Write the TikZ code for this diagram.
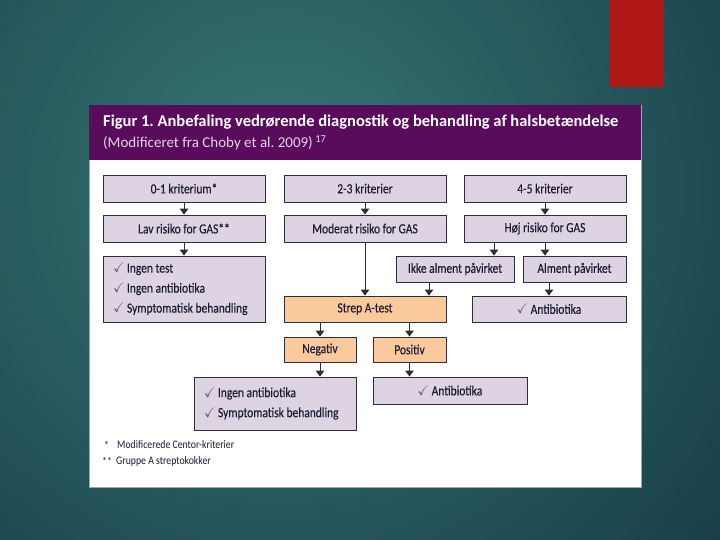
\documentclass[tikz,border=0pt]{standalone}
\usepackage{fontspec}
\usepackage{amssymb}
\setmainfont{Carlito}
\newfontfamily\cond[FakeStretch=0.82,FakeBold=0.2]{Carlito}
\newfontfamily\condlight[FakeStretch=0.85]{Carlito}
\usetikzlibrary{arrows.meta,calc}
\definecolor{bgin}{HTML}{377774}
\definecolor{bgout}{HTML}{163844}
\definecolor{redbar}{HTML}{B01818}
\definecolor{hdr}{HTML}{5A0C5C}
\definecolor{subt}{HTML}{E2D4E6}
\definecolor{lav}{HTML}{DDD3E3}
\definecolor{ora}{HTML}{FAC99C}
\definecolor{ink}{HTML}{1A1A30}
\definecolor{edge}{HTML}{2E2E3A}
\newcommand{\ck}{{\normalfont\color{ink!70}$\checkmark$}\,}
\newcommand{\natsp}{\spaceskip=0pt\xspaceskip=0pt\relax}
\frenchspacing
\tikzset{
  box/.style={draw=edge, line width=0.8pt, fill=lav, text=ink, inner sep=0pt,
    font=\cond\fontsize{14}{15}\selectfont\frenchspacing, align=center},
  obox/.style={box, fill=ora},
  listbox/.style={box, align=left, inner xsep=10pt, inner ysep=0pt,
    font=\cond\fontsize{14}{20}\selectfont},
  fnote/.style={anchor=west, text=ink, font=\condlight\fontsize{11.5}{13}\selectfont, inner sep=0pt},
  arr/.style={draw=edge, line width=0.9pt, -{Triangle[width=8.5pt,length=6pt]}}
}
\begin{document}
\begin{tikzpicture}[x=1pt,y=-1pt]
\useasboundingbox (0,0) rectangle (720,540);
\begin{scope}
\clip (0,0) rectangle (720,540);
\fill[bgout] (0,0) rectangle (720,540);
\shade[inner color=bgin, outer color=bgout] (280,190) circle (620);
\end{scope}
\fill[redbar] (609,0) rectangle (664,87);
% panel
\fill[white, draw=gray!70] (89,105) rectangle (641,487);
\fill[hdr] (89,105) rectangle (641,160);
\node[anchor=west, text=white, font=\fontsize{16.5}{18}\selectfont\bfseries\frenchspacing, inner sep=0pt] (title) at (103,122) {Figur 1. Anbefaling vedrørende diagnostik og behandling af halsbetændelse};
\node[anchor=west, text=subt, font=\fontsize{15}{16}\selectfont\frenchspacing, inner sep=0pt] (subtitle) at (103,143) {(Modificeret fra Choby et al. 2009)\,\textsuperscript{17}};
% row 1
\node[box, minimum width=162pt, minimum height=27pt] (A1) at (184,188.5) {0-1 kriterium*};
\node[box, minimum width=162pt, minimum height=27pt] (B1) at (365,188.5) {2-3 kriterier};
\node[box, minimum width=162pt, minimum height=27pt] (C1) at (545,188.5) {4-5 kriterier};
% row 2
\node[box, minimum width=162pt, minimum height=27pt] (A2) at (184,228.5) {Lav risiko for GAS**};
\node[box, minimum width=162pt, minimum height=27pt] (B2) at (365,228.5) {Moderat risiko for GAS};
\node[box, minimum width=162pt, minimum height=27pt] (C2) at (545,228.5) {Høj risiko for GAS};
% row 3
\node[listbox, text width=142pt, minimum height=66pt] (L3) at (184,289) {\natsp\ck Ingen test\\ \ck Ingen antibiotika\\ \ck Symptomatisk behandling};
\node[box, minimum width=118pt, minimum height=26pt] (Ikke) at (455,269) {Ikke alment påvirket};
\node[box, minimum width=103pt, minimum height=26pt] (Alm) at (574.5,269) {Alment påvirket};
% row 4
\node[obox, minimum width=162pt, minimum height=26pt] (Strep) at (365,309) {Strep A-test};
\node[box, minimum width=154pt, minimum height=26pt] (Ab1) at (549,309) {\ck Antibiotika};
% row 5
\node[obox, minimum width=72pt, minimum height=25pt] (Neg) at (320,349.5) {Negativ};
\node[obox, minimum width=73pt, minimum height=25pt] (Pos) at (409.5,349.5) {Positiv};
% row 6
\node[listbox, text width=142pt, minimum height=53pt] (L6) at (275,403.5) {\natsp\ck Ingen antibiotika\\ \ck Symptomatisk behandling};
\node[box, minimum width=154pt, minimum height=27pt] (Ab2) at (450,390.5) {\ck Antibiotika};
% footnotes
\node[fnote] (fn1s) at (104,445) {*};
\node[fnote] (fn1) at (117,445) {Modificerede Centor-kriterier};
\node[fnote] (fn2s) at (102,461) {**};
\node[fnote] (fn2) at (116,461) {Gruppe A streptokokker};
% arrows
\draw[arr] (A1.south) -- (A2.north);
\draw[arr] (A2.south) -- (L3.north);
\draw[arr] (B1.south) -- (B2.north);
\draw[arr] (B2.south) -- (Strep.north);
\draw[arr] (C1.south) -- (C2.north);
\draw[arr] ([xshift=-51pt]C2.south) -- ([xshift=-51pt]C2.south |- Ikke.north);
\draw[arr] (C2.south) -- (C2.south |- Alm.north);
\draw[arr] ([xshift=-26pt]Ikke.south) -- ([xshift=-26pt]Ikke.south |- Strep.north);
\draw[arr] (Ab1.north |- Alm.south) -- (Ab1.north);
\draw[arr] (Neg.north |- Strep.south) -- (Neg.north);
\draw[arr] (Pos.north |- Strep.south) -- (Pos.north);
\draw[arr] (Neg.south) -- (Neg.south |- L6.north);
\draw[arr] (Pos.south) -- (Pos.south |- Ab2.north);
\end{tikzpicture}
\end{document}
